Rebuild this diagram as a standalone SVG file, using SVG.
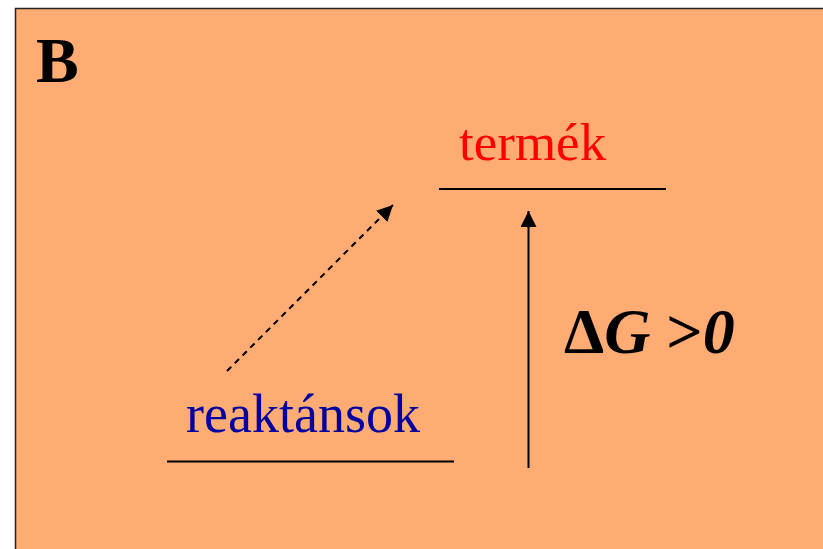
<svg xmlns="http://www.w3.org/2000/svg" width="823" height="549" viewBox="0 0 823 549">
<style>
.t{font-family:"Liberation Serif","Times New Roman",serif}
.ln{stroke:#000;stroke-width:2;fill:none}
</style>
<defs>
<marker id="ah" markerUnits="userSpaceOnUse" markerWidth="16" markerHeight="16" refX="16" refY="8" orient="auto">
<path d="M0,0 L16,8 L0,16 Z" fill="#000"/>
</marker>
</defs>
<rect width="823" height="549" fill="#fff"/>
<rect id="panel" x="15.5" y="8.5" width="820" height="550" fill="#FFAC74" stroke="#222" stroke-width="1.5"/>
<g id="label-B"><text class="t" x="36" y="82" font-size="64" font-weight="bold">B</text></g>
<g id="termek">
<text class="t" x="459" y="160" font-size="53" fill="#FF0000">termék</text>
<line class="ln" x1="439" y1="189" x2="666" y2="189"/>
</g>
<g id="reaktansok">
<text class="t" x="186" y="432" font-size="54" fill="#0000A0">reaktánsok</text>
<line class="ln" x1="167" y1="461.5" x2="454" y2="461.5"/>
</g>
<g id="dG">
<text class="t" x="564" y="353" font-size="64" font-weight="bold">Δ<tspan font-style="italic">G</tspan> &gt;<tspan font-style="italic">0</tspan></text>
</g>
<g id="connectors">
<line class="ln" x1="227" y1="371" x2="393" y2="205" stroke-dasharray="6,5" marker-end="url(#ah)"/>
<line class="ln" x1="528.5" y1="468" x2="528.5" y2="211" marker-end="url(#ah)"/>
</g>
</svg>
